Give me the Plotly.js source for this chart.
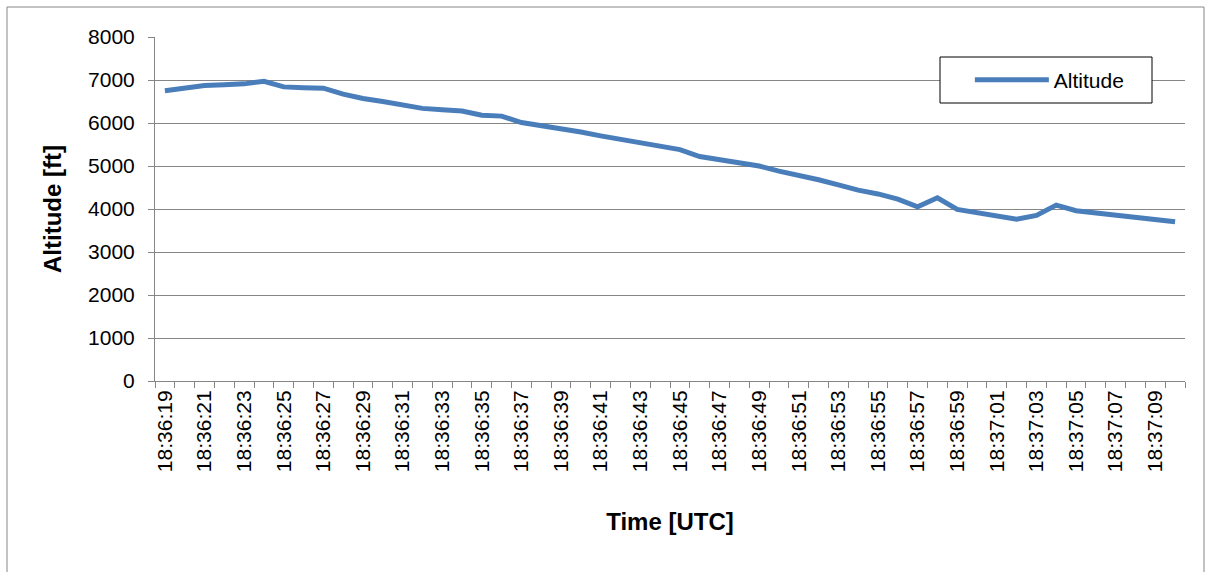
<!DOCTYPE html>
<html>
<head>
<meta charset="utf-8">
<script src="https://cdn.plot.ly/plotly-3.0.1.min.js"></script>
<style>
  html, body { margin: 0; padding: 0; background: #ffffff; }
  #chart { width: 1211px; height: 572px; }
</style>
</head>
<body>
<div id="chart"></div>
<script>
// Categories: time stamps (one per second)
const categories = [
  "18:36:19","18:36:20","18:36:21","18:36:22","18:36:23","18:36:24","18:36:25","18:36:26",
  "18:36:27","18:36:28","18:36:29","18:36:30","18:36:31","18:36:32","18:36:33","18:36:34",
  "18:36:35","18:36:36","18:36:37","18:36:38","18:36:39","18:36:40","18:36:41","18:36:42",
  "18:36:43","18:36:44","18:36:45","18:36:46","18:36:47","18:36:48","18:36:49","18:36:50",
  "18:36:51","18:36:52","18:36:53","18:36:54","18:36:55","18:36:56","18:36:57","18:36:58",
  "18:36:59","18:37:00","18:37:01","18:37:02","18:37:03","18:37:04","18:37:05","18:37:06",
  "18:37:07","18:37:08","18:37:09","18:37:10"
];

// Altitude series [ft]
const altitude = [
  6750, 6810, 6870, 6890, 6910, 6970, 6840, 6820,
  6810, 6670, 6570, 6500, 6430, 6340, 6310, 6280,
  6180, 6160, 6010, 5940, 5870, 5790, 5700, 5620,
  5550, 5480, 5380, 5220, 5150, 5090, 5000, 4880,
  4790, 4680, 4560, 4440, 4350, 4230, 4050, 4260,
  3990, 3910, 3830, 3760, 3850, 4090, 3960, 3910,
  3860, 3810, 3750, 3705
];

// Tick labels: every second category is labelled
const tickLabels = categories.map((c, i) => (i % 2 === 0 ? c : ""));
const yTickValues = [0, 1000, 2000, 3000, 4000, 5000, 6000, 7000, 8000];

const seriesName = "Altitude";
const xTitle = "Time [UTC]";
const yTitle = "Altitude [ft]";

const gray = "#868686";
const font = "Arial, 'Liberation Sans', sans-serif";

const trace = {
  type: "scatter",
  mode: "lines",
  x: categories,
  y: altitude,
  name: seriesName,
  showlegend: true,
  line: { color: "#4A7EBB", width: 5 }
};

const layout = {
  width: 1211,
  height: 572,
  margin: { l: 155, r: 26, t: 37, b: 191 },
  paper_bgcolor: "#ffffff",
  plot_bgcolor: "#ffffff",
  font: { family: font, size: 21, color: "#000000" },
  showlegend: true,
  xaxis: {
    type: "category",
    categoryorder: "array",
    categoryarray: categories,
    range: [-0.5, categories.length - 0.5],
    tickmode: "array",
    tickvals: categories,
    ticktext: tickLabels,
    tickangle: -90,
    tickson: "boundaries",
    ticks: "outside",
    ticklen: 6,
    tickcolor: gray,
    tickwidth: 1,
    showgrid: false,
    showline: true,
    linecolor: gray,
    linewidth: 1,
    zeroline: false,
    automargin: false,
    tickfont: { family: font, size: 21, color: "#000000" },
    title: { text: xTitle, font: { family: font, size: 24, color: "#000000", weight: "bold" }, standoff: 42 }
  },
  yaxis: {
    range: [0, 8000],
    tickmode: "array",
    tickvals: yTickValues,
    ticktext: yTickValues.map(String),
    ticks: "outside",
    ticklen: 6,
    tickcolor: gray,
    tickwidth: 1,
    showgrid: true,
    gridcolor: gray,
    gridwidth: 1,
    showline: true,
    linecolor: gray,
    linewidth: 1,
    zeroline: false,
    automargin: false,
    ticklabelstandoff: 9,
    tickfont: { family: font, size: 21, color: "#000000" },
    title: { text: yTitle, font: { family: font, size: 24, color: "#000000", weight: "bold" }, standoff: 19 }
  },
  legend: {
    x: 0.762,
    y: (381 - 80) / 344,
    xanchor: "left",
    yanchor: "middle",
    bgcolor: "rgba(0,0,0,0)",
    borderwidth: 0,
    indentation: 30,
    itemwidth: 74,
    font: { family: font, size: 21, color: "#000000" }
  },
  shapes: [
    {
      type: "rect",
      xref: "paper",
      yref: "paper",
      x0: (7 - 155) / 1030,
      x1: (1204 - 155) / 1030,
      y0: (381 - 580) / 344,
      y1: (381 - 7) / 344,
      line: { color: gray, width: 1 },
      fillcolor: "rgba(0,0,0,0)",
      layer: "below"
    },
    {
      type: "rect",
      xref: "paper",
      yref: "paper",
      x0: (940 - 155) / 1030,
      x1: (1152 - 155) / 1030,
      y0: (381 - 103) / 344,
      y1: (381 - 57) / 344,
      line: { color: "#000000", width: 1 },
      fillcolor: "#ffffff",
      layer: "above"
    }
  ]
};

Plotly.newPlot("chart", [trace], layout, { displayModeBar: false, staticPlot: true });
</script>
</body>
</html>
